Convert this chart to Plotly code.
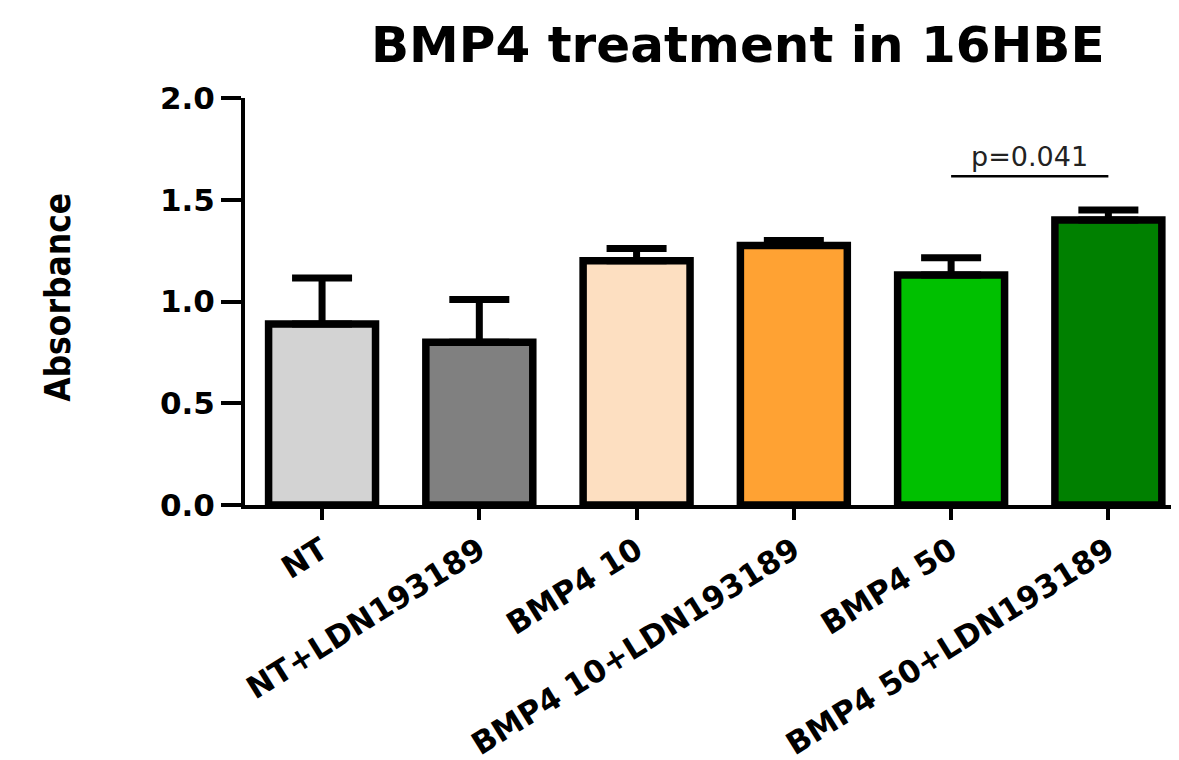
import plotly.graph_objects as go

categories = ["NT", "NT+LDN193189", "BMP4 10", "BMP4 10+LDN193189", "BMP4 50", "BMP4 50+LDN193189"]
means = [0.89, 0.80, 1.20, 1.275, 1.13, 1.40]
sem = [0.225, 0.21, 0.06, 0.025, 0.085, 0.05]
colors = ["#d3d3d3", "#808080", "#fddfc1", "#ffa233", "#00c000", "#008000"]
p_label = "p=0.041"
p_pair = [4, 5]
p_y = 1.615
yticks = [0.0, 0.5, 1.0, 1.5, 2.0]

TICKFONT = dict(family="DejaVu Sans", size=31, color="black", weight="bold")

fig = go.Figure()
fig.add_trace(go.Bar(
    x=list(range(len(categories))),
    y=means,
    width=0.68,
    marker=dict(color=colors, line=dict(color="black", width=7.5)),
    error_y=dict(type="data", symmetric=False, array=sem, arrayminus=[0] * len(sem),
                 color="black", thickness=7, width=30),
    showlegend=False,
))

fig.add_shape(type="line", xref="x", yref="y", x0=p_pair[0], x1=p_pair[1], y0=p_y, y1=p_y,
              line=dict(color="black", width=2.5))
fig.add_annotation(x=sum(p_pair) / 2, y=1.715, xref="x", yref="y", text=p_label, showarrow=False,
                   font=dict(family="DejaVu Sans", size=27, color="#222"), xanchor="center", yanchor="middle")

fig.add_annotation(x=-0.1985, y=0.509, xref="paper", yref="paper", text="Absorbance", textangle=-90,
                   showarrow=False, xanchor="center", yanchor="middle",
                   font=dict(family="DejaVu Sans Condensed", size=35,
                             color="black", weight="bold"))

fig.update_layout(
    width=1179, height=760,
    margin=dict(l=237, r=0, t=90, b=263),
    paper_bgcolor="white", plot_bgcolor="white",
    title=dict(text="BMP4 treatment in 16HBE", x=0.619, xref="container", xanchor="center",
               y=1 - 36 / 760, yref="container", yanchor="middle",
               font=dict(family="DejaVu Sans", size=50, color="black", weight="bold")),
    xaxis=dict(range=[-0.49, 5.5], tickmode="array", tickvals=list(range(len(categories))),
               ticktext=categories, tickangle=-32, tickfont=TICKFONT, showline=True,
               linecolor="black", linewidth=4, ticks="outside", ticklen=11, tickwidth=4,
               tickcolor="black", showgrid=False, zeroline=False, automargin=False),
    yaxis=dict(range=[0, 2.0], tickmode="array", tickvals=yticks,
               ticktext=[f"{v:.1f}" for v in yticks], tickfont=TICKFONT, showline=True,
               linecolor="black", linewidth=4, ticks="outside", ticklen=20, tickwidth=4,
               tickcolor="black", showgrid=False, zeroline=False, automargin=False),
)

fig.write_html("out.html")
